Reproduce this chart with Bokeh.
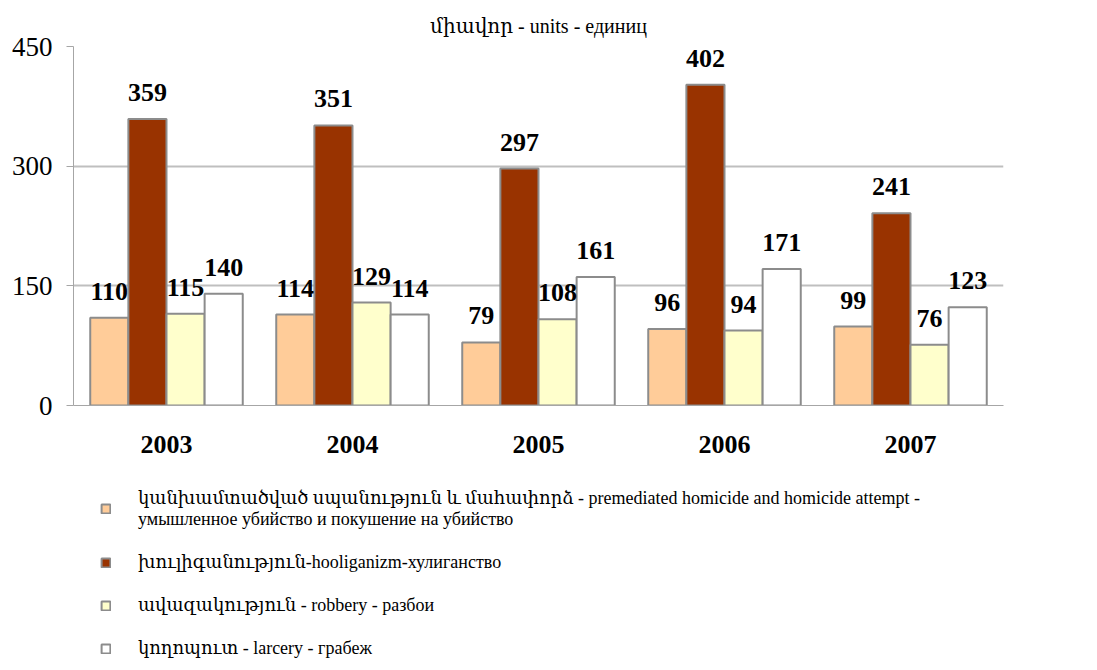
from bokeh.plotting import figure
from bokeh.models import ColumnDataSource, FactorRange, Range1d, Legend, LegendItem, LabelSet
from bokeh.layouts import column
from bokeh.transform import dodge
from bokeh.embed import file_html
from bokeh.resources import INLINE

years = ["2003", "2004", "2005", "2006", "2007"]
homicide = [110, 114, 79, 96, 99]
hooliganism = [359, 351, 297, 402, 241]
robbery = [115, 129, 108, 94, 76]
larceny = [140, 114, 161, 171, 123]
y_ticks = [0, 150, 300, 450]

series_names = [
    "կանխամտածված սպանություն և մահափորձ - premediated homicide and homicide attempt -\nумышленное убийство и покушение на убийство",
    "խուլիգանություն-hooliganizm-хулиганство",
    "ավազակություն - robbery - разбои",
    "կողոպուտ - larcery - грабеж",
]
colors = ["#FFCC99", "#993300", "#FFFFCC", "#FFFFFF"]

SERIF = "Liberation Serif, DejaVu Serif, serif"

src = ColumnDataSource(dict(years=years, homicide=homicide, hooliganism=hooliganism,
                            robbery=robbery, larceny=larceny))

p = figure(x_range=FactorRange(*years, range_padding=0), y_range=Range1d(0, 450),
           frame_width=930, frame_height=359, output_backend="svg", toolbar_location=None,
           title="միավոր - units - единиц",
           min_border_left=73, min_border_right=20, min_border_top=46,
           min_border_bottom=55)
p.outline_line_color = None
p.title.align = "center"
p.title.text_font = SERIF
p.title.text_font_style = "normal"
p.title.text_font_size = "20px"
p.title.text_color = "#000000"
p.title.standoff = 20

fields = ["homicide", "hooliganism", "robbery", "larceny"]
offsets = [-0.3075, -0.1025, 0.1025, 0.3075]
w = 0.205
for f, off, c in zip(fields, offsets, colors):
    p.vbar(x=dodge("years", off, range=p.x_range), top=f, width=w, source=src,
           fill_color=c, line_color="#8C8C8C", line_width=2)
    lab = LabelSet(x=dodge("years", off, range=p.x_range), y=f, text=f, source=src,
                   text_align="center", text_baseline="alphabetic", y_offset=18,
                   text_font=SERIF, text_font_style="bold", text_font_size="26px",
                   text_color="#000000")
    p.add_layout(lab)

p.yaxis.ticker = y_ticks
p.yaxis.major_label_text_font = SERIF
p.yaxis.major_label_text_font_size = "27px"
p.yaxis.major_label_text_color = "#000000"
p.yaxis.axis_line_color = "#A6A6A6"
p.yaxis.major_tick_line_color = "#A6A6A6"
p.yaxis.major_tick_out = 7
p.yaxis.major_tick_in = 0
p.yaxis.minor_tick_line_color = None
p.yaxis.major_label_standoff = 14

p.xaxis.axis_line_color = "#A6A6A6"
p.xaxis.major_tick_line_color = None
p.xaxis.minor_tick_line_color = None
p.xaxis.major_label_text_font = SERIF
p.xaxis.major_label_text_font_style = "bold"
p.xaxis.major_label_text_font_size = "26px"
p.xaxis.major_label_text_color = "#000000"
p.xaxis.major_label_standoff = 24

p.xgrid.grid_line_color = None
p.ygrid.grid_line_color = "#BFBFBF"
p.ygrid.grid_line_width = 2

# legend strip below the chart; its swatches come from bar renderers whose
# factors are not in this strip's range, so they draw no bars of their own
lf = figure(x_range=FactorRange("legend"), y_range=Range1d(1000000, 1001000),
            width=1023, height=202, output_backend="svg", toolbar_location=None,
            x_axis_type=None, y_axis_type=None, min_border=0)
lf.outline_line_color = None
lf.xgrid.grid_line_color = None
lf.ygrid.grid_line_color = None
items = []
for f, off, c, name in zip(fields, offsets, colors, series_names):
    r = lf.vbar(x=dodge("years", off, range=lf.x_range), top=f, width=w, source=src,
                fill_color=c, line_color="#8C8C8C", line_width=2)
    items.append(LegendItem(label=name, renderers=[r]))
legend = Legend(items=items, location="top_left", orientation="vertical",
                glyph_width=11, glyph_height=11, label_standoff=27,
                label_text_font=SERIF, label_text_font_size="18px",
                label_text_color="#000000", spacing=21, padding=0, margin=27,
                border_line_color=None, background_fill_alpha=0)
lf.add_layout(legend, "center")

layout = column(p, lf, spacing=0)
open("out.html", "w").write(file_html(layout, INLINE))
